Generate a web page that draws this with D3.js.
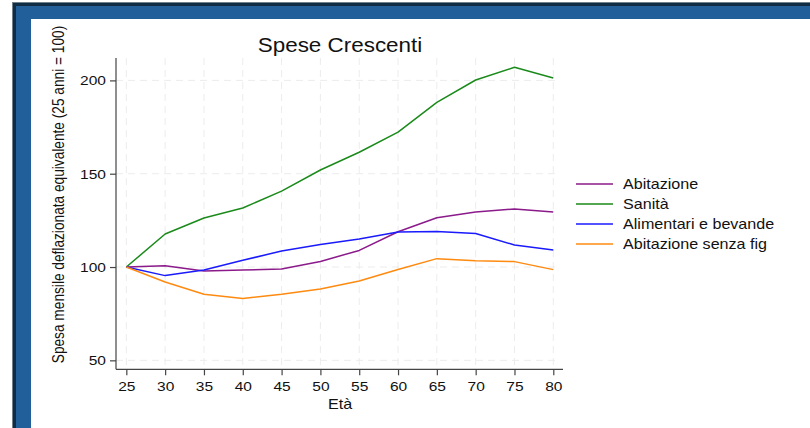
<!DOCTYPE html>
<html><head><meta charset="utf-8">
<script src="https://cdn.jsdelivr.net/npm/d3@7"></script>
<style>html,body{margin:0;padding:0;background:#fff;}svg{display:block;}</style>
</head><body>
<script>
const ages = [25,30,35,40,45,50,55,60,65,70,75,80];
const abitazione = [100,100.7,97.9,98.4,98.9,103.0,108.9,118.9,126.4,129.5,131.1,129.5];
const sanita = [100,117.7,126.3,131.6,140.7,152.0,161.5,172.3,188.2,200.2,207.0,201.3];
const alimentari = [100,95.4,98.4,103.6,108.6,112.1,115.0,118.8,119.1,118.0,111.8,109.1];
const abitazioneSenzaFig = [100,92.0,85.4,83.2,85.4,88.2,92.5,98.7,104.5,103.4,102.9,98.6];
const seriesNames = ["Abitazione","Sanità","Alimentari e bevande","Abitazione senza fig"];
const seriesColors = ["#8b1a8b","#1a8a1a","#1a1aff","#ff8a10"];
const seriesValues = [abitazione, sanita, alimentari, abitazioneSenzaFig];
const yTicks = [50,100,150,200];
const xTicks = ages;
const titleText = "Spese Crescenti";
const xTitle = "Età";
const yTitle = "Spesa mensile deflazionata equivalente (25 anni = 100)";

const W = 810, H = 428, SX = 1.15;
const svg = d3.select("body").append("svg").attr("width", W).attr("height", H);
const font = "'Liberation Sans', Arial, sans-serif";

// frame
svg.append("rect").attr("x",12).attr("y",2).attr("width",W-12).attr("height",H-2).attr("fill","#6f7f8c");
svg.append("rect").attr("x",13).attr("y",3).attr("width",W-13).attr("height",H-3).attr("fill","#0e2d45");
svg.append("rect").attr("x",16).attr("y",6).attr("width",W-16).attr("height",H-6).attr("fill","#215f9a");
svg.append("rect").attr("x",31).attr("y",19).attr("width",W-31).attr("height",H-19).attr("fill","#ffffff");

const x = d3.scaleLinear().domain([23.67,81.25]).range([116,563]);
const y = d3.scaleLinear().domain([45.2,212]).range([369.3,58]);

// grid
const g = svg.append("g");
g.selectAll("line.vg").data(xTicks).enter().append("line")
  .attr("x1",d=>x(d)).attr("x2",d=>x(d)).attr("y1",58).attr("y2",369)
  .attr("stroke","#ececec").attr("stroke-width",1).attr("stroke-dasharray","7,5");
g.selectAll("line.hg").data(yTicks).enter().append("line")
  .attr("x1",116).attr("x2",560).attr("y1",d=>y(d)).attr("y2",d=>y(d))
  .attr("stroke","#ececec").attr("stroke-width",1).attr("stroke-dasharray","7,5");

// axes
const xAxis = svg.append("g").attr("transform","translate(0,369.3)")
  .call(d3.axisBottom(x).tickValues(xTicks).tickSize(6).tickPadding(4).tickFormat(d3.format("d")));
const yAxis = svg.append("g").attr("transform","translate(116,0)")
  .call(d3.axisLeft(y).tickValues(yTicks).tickSize(6).tickPadding(3).tickFormat(d3.format("d")));
[xAxis,yAxis].forEach(a=>{
  a.select(".domain").attr("stroke","#444").attr("stroke-width",1.2);
  a.selectAll(".tick line").attr("stroke","#444").attr("stroke-width",1.2);
  a.selectAll(".tick text").attr("fill","#111").style("font-family",font).style("font-size","13.5px");
});
xAxis.selectAll(".tick text").attr("transform",`scale(${SX},1)`).attr("x",0).attr("dy","0.71em").attr("y",12);
yAxis.selectAll(".tick text").each(function(){
  d3.select(this).attr("x",null).attr("text-anchor","end")
   .attr("transform",`translate(-10,0) scale(${SX},1)`);
});
xAxis.select(".domain").attr("d","M116,0H563");
yAxis.select(".domain").attr("d","M0,58V369.3");

// lines
const line = d3.line().x((d,i)=>x(ages[i])).y(d=>y(d));
seriesValues.forEach((vals,k)=>{
  svg.append("path").datum(vals).attr("d",line).attr("fill","none")
    .attr("stroke",seriesColors[k]).attr("stroke-width",1.5).attr("stroke-linejoin","round");
});

// title
svg.append("text").attr("transform",`translate(340,52) scale(${SX},1)`).attr("text-anchor","middle")
  .style("font-family",font).style("font-size","19.5px").attr("fill","#111").text(titleText);
// x title
svg.append("text").attr("transform",`translate(340,409) scale(${SX},1)`).attr("text-anchor","middle")
  .style("font-family",font).style("font-size","14px").attr("fill","#111").text(xTitle);
// y title
svg.append("text").attr("transform",`translate(64,194.5) rotate(-90) scale(1,${SX})`).attr("text-anchor","middle")
  .style("font-family",font).style("font-size","13.7px").attr("fill","#111").text(yTitle);

// legend
const leg = svg.append("g");
seriesNames.forEach((n,i)=>{
  const yy = 184 + i*20;
  leg.append("line").attr("x1",576).attr("x2",613).attr("y1",yy).attr("y2",yy)
    .attr("stroke",seriesColors[i]).attr("stroke-width",1.5);
  leg.append("text").attr("transform",`translate(623,${yy+5}) scale(${SX},1)`)
    .style("font-family",font).style("font-size","14px").attr("fill","#111").text(n);
});
</script>
</body></html>
